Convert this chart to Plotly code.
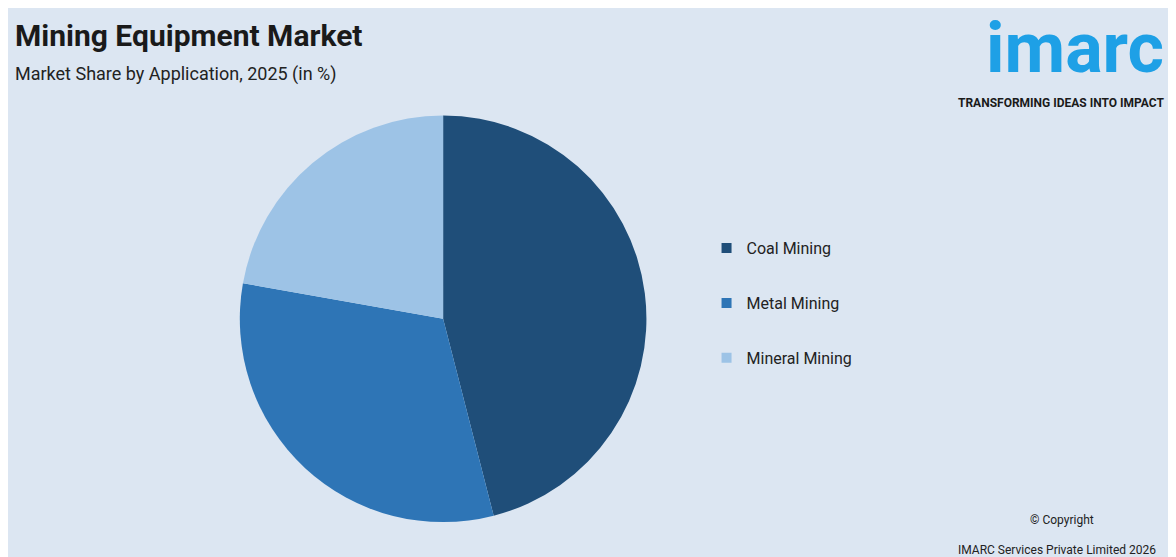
import plotly.graph_objects as go

# ----------------------------
# Datos
# ----------------------------
applications = ["Coal Mining", "Metal Mining", "Mineral Mining"]
shares = [46.0, 31.8, 22.2]
colors = ["#1f4e79", "#2e75b6", "#9dc3e6"]

fig = go.Figure(go.Pie(
    labels=applications, values=shares, sort=False, direction="clockwise",
    rotation=0, marker=dict(colors=colors), textinfo="none", hoverinfo="label+percent",
    domain=dict(x=[0.14, 0.60], y=[0.077, 0.807]), showlegend=False,
))

# legend entries as dummy traces so the gap between items can be set
for name, col in zip(applications, colors):
    fig.add_trace(go.Scatter(x=[None], y=[None], mode="markers", name=name, legendgroup=name,
                             marker=dict(symbol="square", size=10, color=col)))

fig.update_xaxes(visible=False)
fig.update_yaxes(visible=False)

fig.update_layout(
    width=1176, height=557, paper_bgcolor="#dce6f2", plot_bgcolor="#dce6f2",
    margin=dict(l=0, r=0, t=0, b=0),
    font=dict(family="Roboto, Arial, sans-serif", color="#222"),
    legend=dict(x=0.594, y=0.47, xanchor="left", yanchor="middle",
                font=dict(size=16, color="#222"), tracegroupgap=31,
                itemwidth=30, bgcolor="rgba(0,0,0,0)"),
    annotations=[
        dict(text="<b>Mining Equipment Market</b>", x=0.004, y=0.985, xref="paper", yref="paper",
             xanchor="left", yanchor="top", showarrow=False, font=dict(size=30, color="#1a1a1a")),
        dict(text="Market Share by Application, 2025 (in %)", x=0.004, y=0.905, xref="paper", yref="paper",
             xanchor="left", yanchor="top", showarrow=False, font=dict(size=18, color="#222")),
        dict(text="<b>imarc</b>", x=0.985, y=1.005, xref="paper", yref="paper",
             xanchor="right", yanchor="top", showarrow=False, font=dict(size=70, color="#1ea0e6")),
        dict(text="<b>TRANSFORMING IDEAS INTO IMPACT</b>", x=0.985, y=0.845, xref="paper", yref="paper",
             xanchor="right", yanchor="top", showarrow=False, font=dict(size=12, color="#1a1a1a")),
        dict(text="© Copyright", x=0.925, y=0.065, xref="paper", yref="paper",
             xanchor="right", yanchor="bottom", showarrow=False, font=dict(size=12, color="#222")),
        dict(text="IMARC Services Private Limited 2026", x=0.978, y=0.01, xref="paper", yref="paper",
             xanchor="right", yanchor="bottom", showarrow=False, font=dict(size=12, color="#222")),
    ],
)

fig.write_html("out.html")
